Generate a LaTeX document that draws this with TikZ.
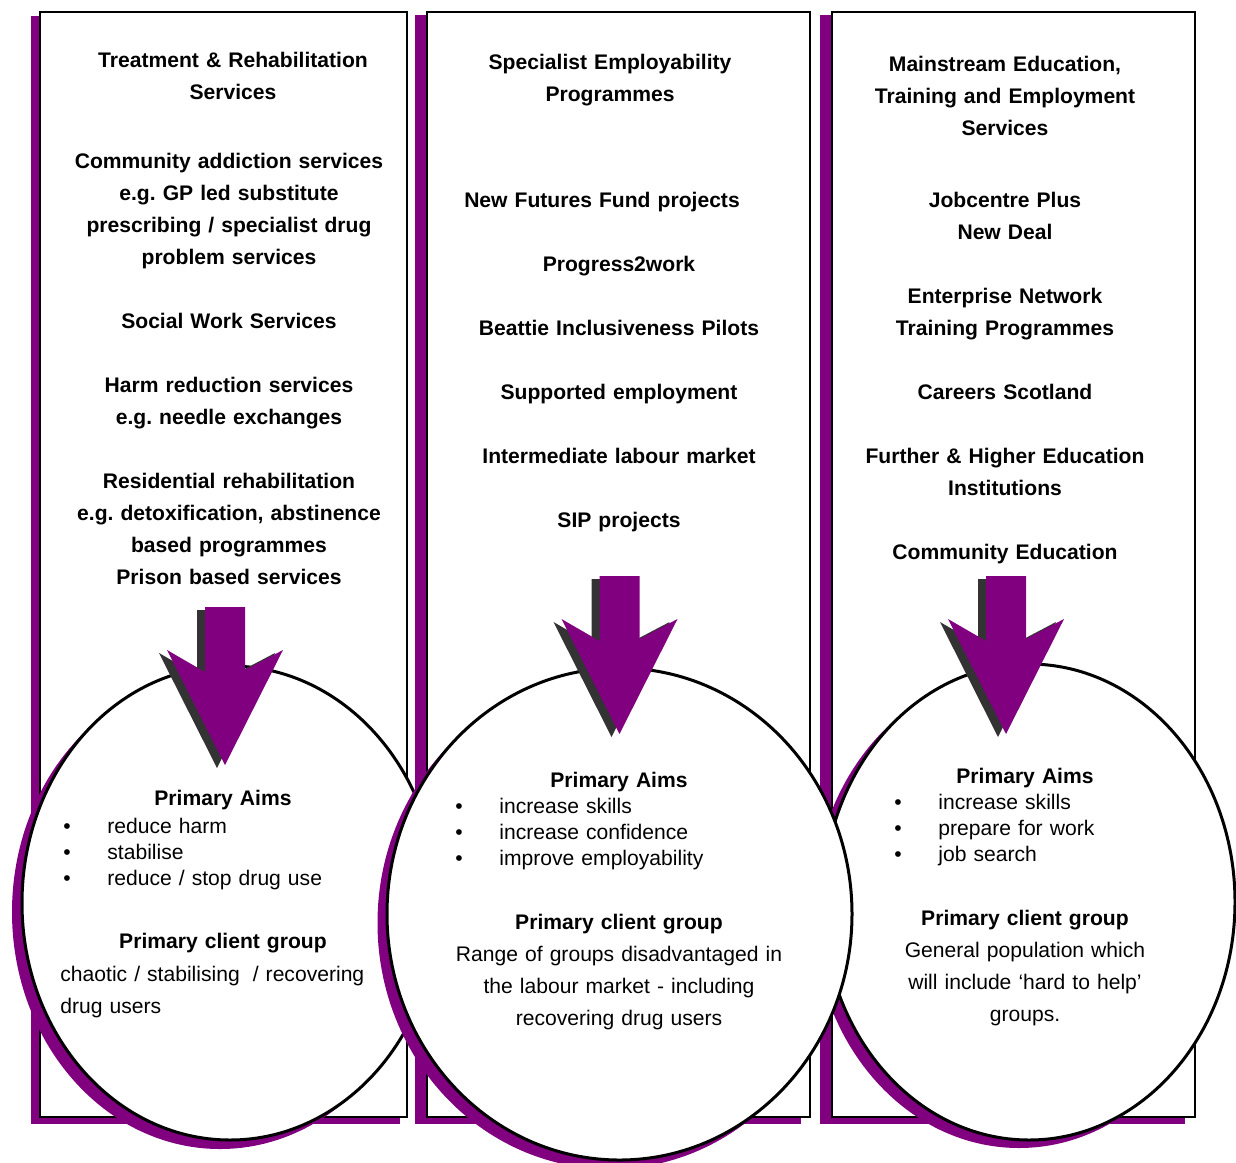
\documentclass[tikz,border=0pt]{standalone}
\usepackage{fontspec}
\setmainfont{Liberation Sans}
\usetikzlibrary{positioning}
\definecolor{aimpurple}{HTML}{800080}
\definecolor{arrowshade}{HTML}{333333}
\frenchspacing

\begin{document}
\begin{tikzpicture}[
    x=0.5pt, y=-0.5pt,
    font=\fontsize{10.55}{16}\selectfont,
    panel/.style={draw=black, line width=0.8pt, fill=white},
    panel shade/.style={fill=aimpurple},
    oval/.style={draw=black, line width=1.5pt, fill=white},
    oval shade/.style={fill=aimpurple},
    arrow body/.style={fill=aimpurple},
    arrow shade/.style={fill=arrowshade},
    heading/.style={font=\fontsize{10.55}{16}\selectfont\bfseries, align=center,
                    text width=185pt, anchor=base, inner sep=0pt},
    aims list/.style={font=\fontsize{10.55}{13}\selectfont, align=left,
                      text width=170pt, anchor=base west, inner sep=0pt},
    group text/.style={font=\fontsize{10.55}{16}\selectfont, align=center,
                       text width=175pt, anchor=base, inner sep=0pt},
]

\useasboundingbox (0,0) rectangle (1236,1162);

\def\arrowshape{(-20,0) -- (20,0) -- (20,63) -- (58,43) -- (0,158) -- (-58,43) -- (-20,65) -- cycle}
\def\bul{\makebox[22pt][l]{\textbullet}}

% Panels
\fill[panel shade] (31,16) rectangle (400,1124);
\draw[panel] (40,12) rectangle (407,1117);
\fill[panel shade] (415,15) rectangle (801,1124);
\draw[panel] (427,12) rectangle (810,1117);
\fill[panel shade] (820,15) rectangle (1185,1124);
\draw[panel] (832,12) rectangle (1195,1117);

% Column 1
\node[heading] (T1) at (233,67) {Treatment \& Rehabilitation\\Services};
\node[heading] (L1) at (229,168) {Community addiction services\\e.g. GP led substitute\\
    prescribing / specialist drug\\problem services\\[16pt]Social Work Services\\[16pt]
    Harm reduction services\\e.g. needle exchanges\\[16pt]Residential rehabilitation\\
    e.g. detoxification, abstinence\\based programmes\\Prison based services};

% Column 2
\node[heading] (T2) at (610,69) {Specialist Employability\\Programmes};
\node[heading] (NF) at (602,207) {New Futures Fund projects};
\node[heading] (L2) at (619,271) {Progress2work\\[16pt]Beattie Inclusiveness Pilots\\[16pt]
    Supported employment\\[16pt]Intermediate labour market\\[16pt]SIP projects};

% Column 3
\node[heading] (T3) at (1005,71) {Mainstream Education,\\Training and Employment\\Services};
\node[heading] (L3) at (1005,207) {Jobcentre Plus\\New Deal\\[16pt]Enterprise Network\\
    Training Programmes\\[16pt]Careers Scotland\\[16pt]Further \& Higher Education\\
    Institutions\\[16pt]Community Education};

% Ovals (middle one sits on top)
\fill[oval shade] (220,912) ellipse [x radius=208, y radius=237];
\draw[oval] (230,903) ellipse [x radius=208, y radius=237];
\fill[oval shade] (1019,910) ellipse [x radius=206, y radius=238];
\draw[oval] (1029,902) ellipse [x radius=206, y radius=238];
\fill[oval shade] (610,923) ellipse [x radius=232.5, y radius=246];
\draw[oval] (619.5,914) ellipse [x radius=232.5, y radius=246];

% Arrows
\fill[arrow shade, shift={(217,610)}] \arrowshape;
\fill[arrow body, shift={(225,607)}] \arrowshape;
\fill[arrow shade, shift={(611.5,579)}] \arrowshape;
\fill[arrow body, shift={(619.5,576)}] \arrowshape;
\fill[arrow shade, shift={(998,579)}] \arrowshape;
\fill[arrow body, shift={(1006,576)}] \arrowshape;

% Oval 1
\node[heading] (A1) at (223,805) {Primary Aims};
\node[aims list] (B1) at (63,833) {\bul reduce harm\\\bul stabilise\\\bul reduce / stop drug use};
\node[heading] (G1) at (223,948) {Primary client group};
\node[group text, align=left, anchor=base west] (U1) at (60,981)
    {chaotic / stabilising\hspace{3pt} / recovering\\drug users};

% Oval 2
\node[heading] (A2) at (619,787) {Primary Aims};
\node[aims list] (B2) at (455,813) {\bul increase skills\\\bul increase confidence\\\bul improve employability};
\node[heading] (G2) at (619,929) {Primary client group};
\node[group text] (U2) at (619,961)
    {Range of groups disadvantaged in\\the labour market - including\\recovering drug users};

% Oval 3
\node[heading] (A3) at (1025,783) {Primary Aims};
\node[aims list] (B3) at (894,809) {\bul increase skills\\\bul prepare for work\\\bul job search};
\node[heading] (G3) at (1025,925) {Primary client group};
\node[group text] (U3) at (1025,957)
    {General population which\\will include ‘hard to help’\\groups.};

\end{tikzpicture}
\end{document}
